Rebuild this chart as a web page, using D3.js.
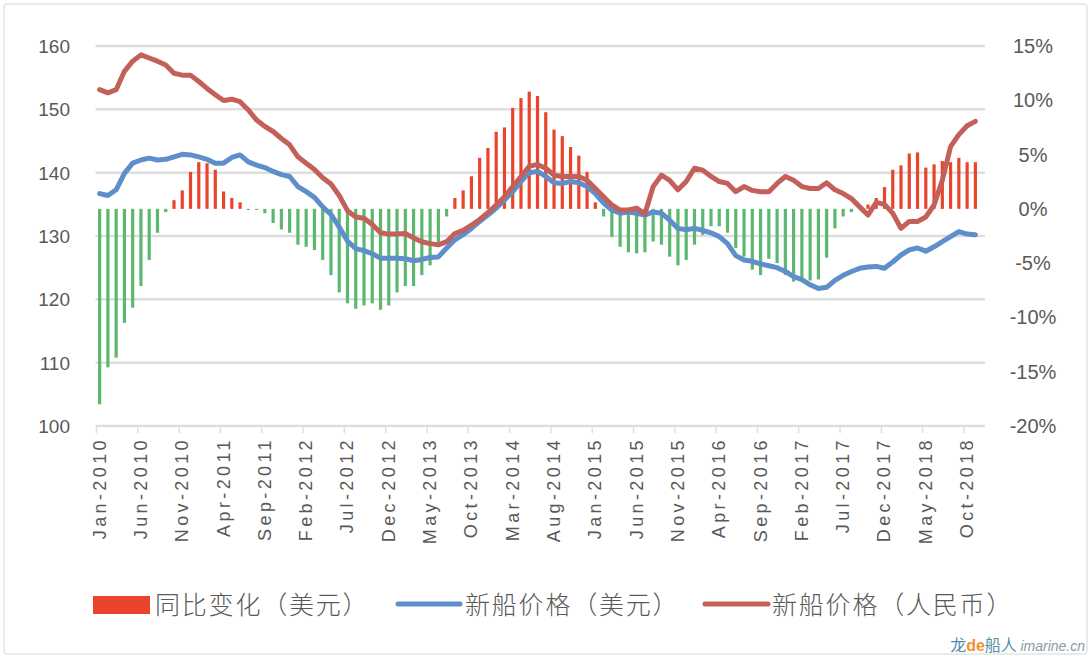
<!DOCTYPE html>
<html>
<head>
<meta charset="utf-8">
<script src="https://cdn.jsdelivr.net/npm/d3@7"></script>
<style>
  body { margin: 0; background: #fff; }
  text { font-family: "Liberation Sans", Arial, sans-serif; fill: #595959; }
  .cjk { font-family: "Noto Sans CJK SC", sans-serif; }
</style>
</head>
<body>
<div id="chart-area"></div>
<script>
// months Jan-2010 .. Nov-2018
const months = d3.range(107).map(i => new Date(2010, i, 1));

// 同比变化（美元）, %
const yoyChange = [
  -18.0, -14.6, -13.7, -10.5, -9.1, -7.1, -4.7, -2.2, -0.3, 0.8,
  1.7, 3.4, 4.3, 4.2, 3.6, 1.6, 1.0, 0.6, -0.1, -0.1,
  -0.4, -1.3, -1.9, -2.2, -3.3, -3.5, -3.8, -4.7, -6.1, -7.7,
  -8.7, -9.2, -8.9, -8.7, -9.3, -8.9, -7.7, -7.1, -7.1, -6.1,
  -5.2, -3.1, -0.7, 1.0, 1.7, 3.0, 4.7, 5.6, 7.1, 7.5,
  9.3, 10.2, 10.8, 10.4, 8.9, 7.3, 6.7, 5.7, 4.9, 3.4,
  0.6, -0.7, -2.6, -3.5, -4.0, -4.1, -4.0, -3.0, -3.3, -4.4,
  -5.2, -4.7, -3.3, -2.4, -1.6, -1.6, -2.2, -3.6, -4.4, -5.6,
  -6.1, -4.6, -5.0, -6.1, -6.7, -6.5, -6.6, -6.5, -4.5, -1.8,
  -0.7, -0.3, 0.0, 0.4, 1.0, 2.0, 3.6, 4.0, 5.1, 5.2,
  3.8, 4.1, 4.4, 4.3, 4.7, 4.3, 4.3
];

// 新船价格（美元）
const priceUsd = [
  136.7, 136.4, 137.3, 139.9, 141.5, 142.0, 142.3, 142.0, 142.1, 142.5,
  142.9, 142.8, 142.5, 142.1, 141.5, 141.5, 142.4, 142.8, 141.7, 141.2,
  140.8, 140.2, 139.7, 139.4, 137.8, 137.0, 136.1, 134.6, 133.4, 131.4,
  129.2, 128.0, 127.7, 127.2, 126.5, 126.5, 126.5, 126.4, 126.1, 126.3,
  126.6, 126.7, 128.1, 129.4, 130.2, 131.2, 132.3, 133.3, 134.4, 135.7,
  137.0, 138.6, 140.0, 140.2, 139.4, 138.4, 138.3, 138.6, 138.4, 137.8,
  136.7, 135.2, 134.1, 133.6, 133.8, 133.6, 133.3, 133.8, 133.6, 132.5,
  131.2, 131.0, 131.2, 130.9, 130.5, 129.9, 128.8, 126.9, 126.2, 126.0,
  125.6, 125.3, 125.0, 124.4, 123.6, 123.1, 122.3, 121.7, 121.9, 123.0,
  123.8, 124.4, 124.9, 125.1, 125.2, 124.9, 125.9, 127.0, 127.8, 128.1,
  127.6, 128.3, 129.1, 129.9, 130.7, 130.3, 130.2
];

// 新船价格（人民币）
const priceRmb = [
  153.1, 152.6, 153.1, 156.0, 157.6, 158.6, 158.1, 157.6, 157.0, 155.7,
  155.4, 155.4, 154.4, 153.3, 152.3, 151.4, 151.6, 151.2, 149.9, 148.3,
  147.3, 146.5, 145.4, 144.4, 142.5, 141.5, 140.5, 139.2, 138.2, 136.4,
  134.0, 133.0, 132.8, 131.8, 130.5, 130.3, 130.3, 130.4, 129.7, 129.1,
  128.8, 128.6, 129.1, 130.4, 130.9, 131.7, 132.6, 133.7, 134.9, 136.2,
  137.8, 139.4, 141.0, 141.3, 140.7, 139.6, 139.4, 139.4, 139.4, 138.8,
  137.5, 136.2, 134.9, 134.1, 134.1, 134.4, 133.5, 137.8, 139.6, 138.8,
  137.3, 138.6, 140.7, 140.4, 139.4, 138.6, 138.3, 137.0, 137.8, 137.2,
  137.0, 137.0, 138.3, 139.4, 138.8, 137.8, 137.5, 137.5, 138.4, 137.3,
  136.7, 135.9, 134.6, 133.3, 135.3, 135.0, 133.6, 131.2, 132.3, 132.3,
  133.0, 134.9, 138.8, 144.1, 146.0, 147.4, 148.1
];

const leftTicks = [100, 110, 120, 130, 140, 150, 160];
const rightTicks = [-20, -15, -10, -5, 0, 5, 10, 15];
const legendLabels = ['同比变化（美元）', '新船价格（美元）', '新船价格（人民币）'];

const colors = { up: '#e8452c', down: '#5cb870', usd: '#5e8fcb', rmb: '#c4605a', grid: '#dedede' };

const width = 1092, height = 660;
const plot = { left: 95.5, right: 985, top: 46, bottom: 426 };

let svg = d3.select('#chart-area')
  .append('svg')
  .attr('width', width)
  .attr('height', height)

// outer frame
svg.append('rect')
  .attr('x', 4).attr('y', 4)
  .attr('width', 1083).attr('height', 650)
  .attr('rx', 3)
  .attr('fill', 'none')
  .attr('stroke', '#d6d6d6')

let x = d3.scaleBand()
  .domain(d3.range(months.length))
  .range([plot.left, 979.5])

let cx = i => x(i) + x.bandwidth() / 2

let yL = d3.scaleLinear()
  .domain([100, 160])
  .range([plot.bottom, plot.top])

let yR = d3.scaleLinear()
  .domain([-20, 15])
  .range([plot.bottom, plot.top])

// gridlines
svg.append('g')
  .selectAll('line')
  .data(leftTicks)
  .join('line')
  .attr('x1', plot.left).attr('x2', plot.right)
  .attr('y1', d => yL(d)).attr('y2', d => yL(d))
  .attr('stroke', colors.grid)
  .attr('stroke-width', 2.5)

// left axis labels
svg.append('g')
  .selectAll('text')
  .data(leftTicks)
  .join('text')
  .attr('x', 70)
  .attr('y', d => yL(d) + 7)
  .attr('text-anchor', 'end')
  .style('font-size', '19px')
  .text(d => d)

// right axis labels
svg.append('g')
  .selectAll('text')
  .data(rightTicks)
  .join('text')
  .attr('x', 1033)
  .attr('y', d => yR(d) + 7)
  .attr('text-anchor', 'middle')
  .style('font-size', '20px')
  .text(d => d + '%')

// category ticks + labels, every 5 months
let tickIdx = d3.range(0, months.length, 5)
let fmt = d3.timeFormat('%b-%Y')

svg.append('g')
  .selectAll('line')
  .data(tickIdx)
  .join('line')
  .attr('x1', d => x(d) + 1).attr('x2', d => x(d) + 1)
  .attr('y1', plot.bottom).attr('y2', plot.bottom + 7)
  .attr('stroke', colors.grid)
  .attr('stroke-width', 1.5)

svg.append('g')
  .selectAll('text')
  .data(tickIdx)
  .join('text')
  .attr('transform', d => `translate(${cx(d) + 6}, 437) rotate(-90)`)
  .attr('text-anchor', 'end')
  .style('font-size', '18px')
  .style('letter-spacing', '3.4px')
  .text(d => fmt(months[d]))

// bars
svg.append('g')
  .selectAll('rect')
  .data(yoyChange)
  .join('rect')
  .attr('x', (d, i) => cx(i) - 1.6)
  .attr('width', 3.2)
  .attr('y', d => d >= 0 ? yR(d) : yR(0))
  .attr('height', d => Math.abs(yR(d) - yR(0)))
  .attr('fill', d => d >= 0 ? colors.up : colors.down)

// lines
let line = d3.line()
  .x((d, i) => cx(i))
  .y(d => yL(d))

svg.append('path')
  .datum(priceUsd)
  .attr('d', line)
  .attr('fill', 'none')
  .attr('stroke', colors.usd)
  .attr('stroke-width', 5)
  .attr('stroke-linejoin', 'round')
  .attr('stroke-linecap', 'round')

svg.append('path')
  .datum(priceRmb)
  .attr('d', line)
  .attr('fill', 'none')
  .attr('stroke', colors.rmb)
  .attr('stroke-width', 5)
  .attr('stroke-linejoin', 'round')
  .attr('stroke-linecap', 'round')

// legend
let legend = svg.append('g')

legend.append('rect')
  .attr('x', 93).attr('y', 596)
  .attr('width', 57).attr('height', 18)
  .attr('fill', colors.up)

legend.append('line')
  .attr('x1', 398).attr('x2', 460)
  .attr('y1', 604).attr('y2', 604)
  .attr('stroke', colors.usd).attr('stroke-width', 5)
  .attr('stroke-linecap', 'round')

legend.append('line')
  .attr('x1', 705).attr('x2', 768)
  .attr('y1', 604).attr('y2', 604)
  .attr('stroke', colors.rmb).attr('stroke-width', 5)
  .attr('stroke-linecap', 'round')

legend.selectAll('text')
  .data(legendLabels)
  .join('text')
  .attr('class', 'cjk')
  .attr('x', (d, i) => [155, 465, 772][i])
  .attr('y', 614)
  .style('font-size', '25px')
  .style('font-weight', 300)
  .style('letter-spacing', '1.8px')
  .text(d => d)

// watermark
let wm = svg.append('text')
  .attr('x', 1085).attr('y', 651)
  .attr('text-anchor', 'end')
  .style('font-size', '16px')
wm.append('tspan').attr('class', 'cjk').style('fill', '#4f8fa8').text('龙')
wm.append('tspan').style('fill', '#f0912e').style('font-weight', 'bold').text('de')
wm.append('tspan').attr('class', 'cjk').style('fill', '#4f8fa8').text('船人 ')
wm.append('tspan').style('fill', '#8a9aa5').style('font-style', 'italic').style('font-size', '14px').text('imarine.cn')
</script>
</body>
</html>
